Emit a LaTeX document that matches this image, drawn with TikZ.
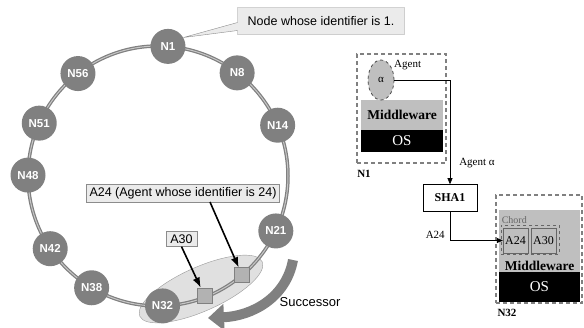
\documentclass[tikz,border=0pt]{standalone}
\usepackage{fontspec}
\setmainfont{Liberation Serif}
\setsansfont{Liberation Sans}
\usetikzlibrary{arrows.meta,positioning,shapes.callouts,shapes.geometric,calc}

\begin{document}
\begin{tikzpicture}[
    x=1pt, y=1pt,
    >=Latex,
    ringnode/.style={circle, fill=black!50, text=white, minimum size=35pt,
      inner sep=0pt, font=\sffamily\bfseries\fontsize{11.5}{12}\selectfont},
    agentsq/.style={draw=black!50, fill=black!30, minimum size=15pt, inner sep=0pt},
    callbox/.style={draw=black!45, fill=black!8, inner sep=3pt,
      font=\sffamily\fontsize{12.5}{14}\selectfont},
    pointer/.style={->, line width=1.6pt},
    host/.style={draw=black!50, line width=1.1pt, dash pattern=on 4pt off 3pt,
      inner sep=0pt},
    layer/.style={fill=black!25, inner sep=0pt},
    mwlabel/.style={font=\bfseries\fontsize{13.5}{14}\selectfont, inner sep=1pt},
    oslayer/.style={fill=black, text=white, inner sep=0pt,
      font=\fontsize{15}{16}\selectfont},
    small/.style={font=\fontsize{11}{12}\selectfont, inner sep=1pt},
    agentbox/.style={draw=black!60, fill=black!25, minimum size=25pt, inner sep=0pt,
      font=\fontsize{12}{12}\selectfont},
    flow/.style={-{Triangle[length=6pt,width=5pt]}, semithick}
  ]
  \useasboundingbox (0,-327) rectangle (584,0);

  % Chord ring
  \coordinate (c) at (158,-176);
  \draw[black!40, fill=black!12, rotate around={24:(201,-289)}]
    (201,-289) ellipse [x radius=67, y radius=22];
  \draw[black!50, line width=3.5pt] (c) circle [radius=130];
  \draw[black!22, line width=1pt] (c) circle [radius=130];
  \node[agentsq] (sq30) at ($(c)+(-68.8:128)$) {};
  \node[agentsq] (sq24) at ($(c)+(-49.7:130)$) {};
  \foreach \ang/\lab/\nm in {85.6/N1/n1, 52.5/N8/n8, 23/N14/n14, -25/N21/n21,
      -88/N32/n32, -120.7/N38/n38, -146/N42/n42, 179.6/N48/n48,
      156/N51/n51, 128/N56/n56}
    \node[ringnode] (\nm) at ($(c)+(\ang:130)$) {\lab};

  % Labels on the ring
  \node[callbox, rectangle callout, callout absolute pointer={(n1.30)},
    callout pointer width=8pt, minimum width=167pt, minimum height=27pt]
    (note1) at (321,-21) {Node whose identifier is 1.};
  \node[callbox] (lbl24) at (183,-193) {A24 (Agent whose identifier is 24)};
  \node[callbox, minimum width=31pt] (lbl30) at (181.5,-239) {A30};
  \draw[pointer] ($(lbl24.south)+(27,0)$) -- (sq24);
  \draw[pointer] (lbl30.south) -- (sq30);

  % Successor direction
  \draw[black!50, line width=10pt, -{Triangle[length=16pt,width=26pt]}]
    (293,-260) .. controls (286,-298) and (252,-316) .. (208,-318);
  \node[font=\sffamily\fontsize{13}{14}\selectfont] (succ) at (310,-302) {Successor};

  % Host N1
  \node[host, minimum width=89pt, minimum height=109pt] (h1) at (401.5,-108.5) {};
  \node[layer, mwlabel, minimum width=82pt, minimum height=30pt] (mw1) at (402,-115) {Middleware};
  \node[oslayer, minimum width=82pt, minimum height=22pt] (os1) at (402,-141) {OS};
  \node[ellipse, draw=black!70, dashed, thick, fill=black!25, minimum width=26pt,
    minimum height=40pt, inner sep=0pt, font=\fontsize{11}{12}\selectfont] (agent) at (381,-80) {α};
  \node[small, anchor=west] (agentlbl) at (393,-65) {Agent};
  \node[small, font=\bfseries\fontsize{11}{12}\selectfont] (n1lbl) at (364,-174) {N1};

  % Hashing
  \node[draw, semithick, minimum width=54pt, minimum height=27pt,
    font=\bfseries\fontsize{12}{12}\selectfont] (sha) at (450,-198) {SHA1};
  \draw[flow] (agent.east) -| node[pos=0.9, right=8pt, small] {Agent α} (sha.north);

  % Host N32
  \node[host, minimum width=86pt, minimum height=108pt] (h32) at (539,-249) {};
  \node[layer, minimum width=81pt, minimum height=62pt] (mw32) at (539.5,-241) {};
  \node[mwlabel, anchor=south] (mw32lbl) at (mw32.south) {Middleware};
  \node[oslayer, minimum width=81pt, minimum height=30pt] (os32) at (539.5,-287) {OS};
  \node[draw=black!60, dashed, thick, minimum width=58pt, minimum height=29pt,
    inner sep=0pt] (chord) at (530,-239.5) {};
  \node[small, anchor=south west, text=black!60, font=\fontsize{10}{10}\selectfont]
    (chordlbl) at (chord.north west) {Chord};
  \node[agentbox] (a24) at (515.5,-240.5) {A24};
  \node[agentbox] (a30) at (543.5,-240.5) {A30};
  \node[small, font=\bfseries\fontsize{11}{12}\selectfont] (n32lbl) at (507,-313) {N32};
  \draw[flow] (sha.south) |- node[pos=0.4, left=4pt, small] {A24} (a24.west);
\end{tikzpicture}
\end{document}
